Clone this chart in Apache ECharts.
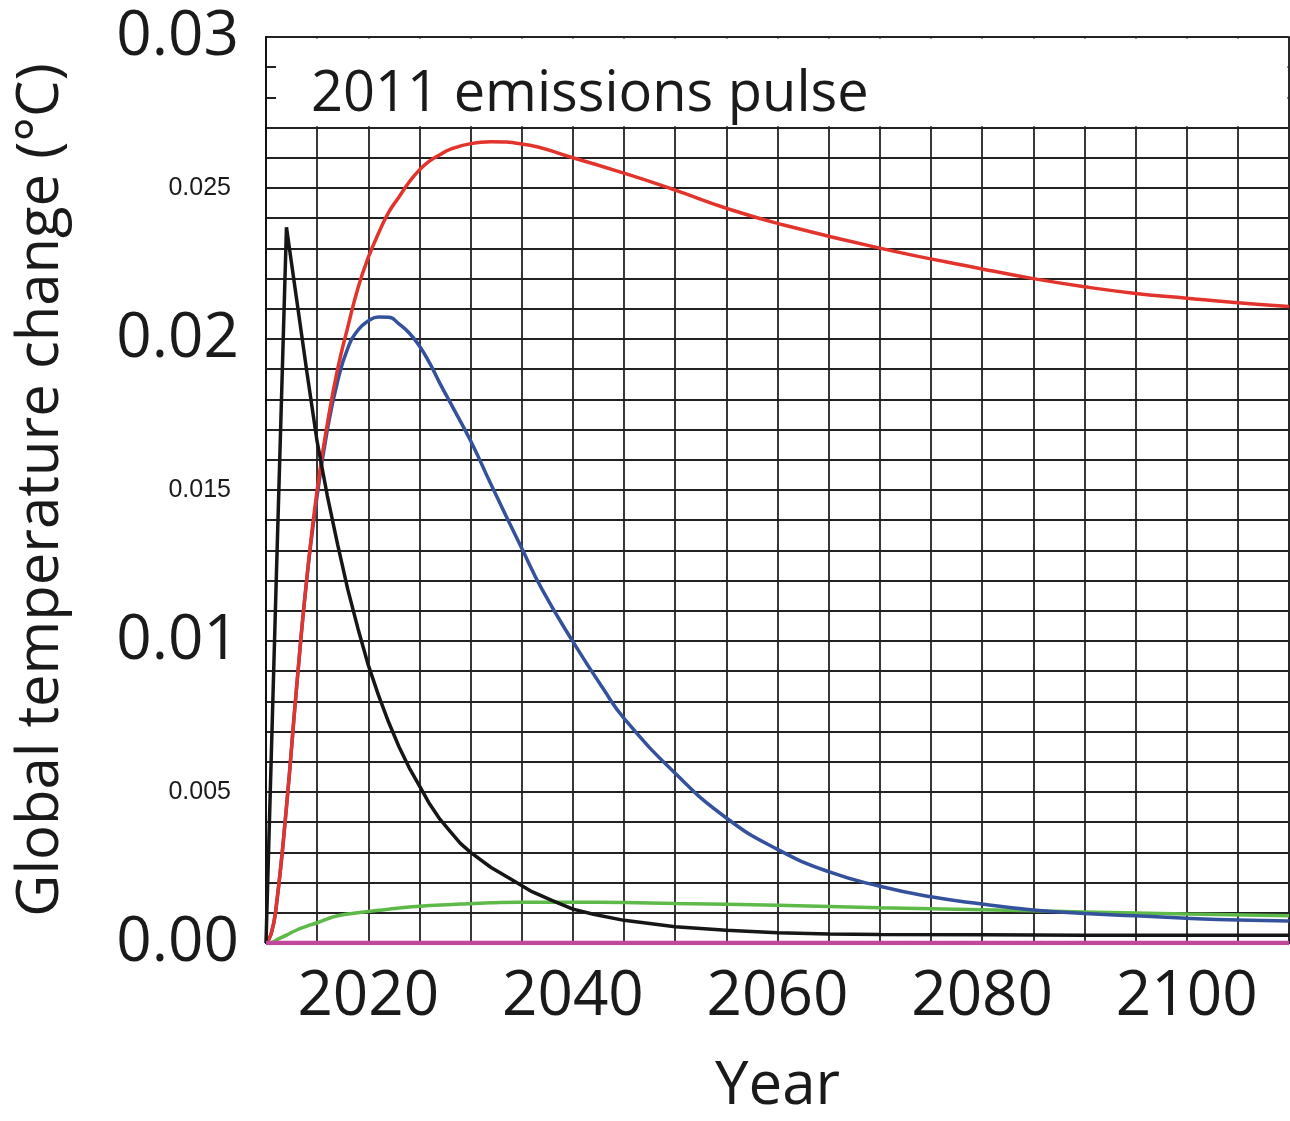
<!DOCTYPE html>
<html><head><meta charset="utf-8">
<script src="https://cdn.jsdelivr.net/npm/echarts@6/dist/echarts.min.js"></script>
<style>html,body{margin:0;padding:0;background:#fff}#c{width:1290px;height:1121px}</style>
</head><body><div id="c"></div>
<script>
// ---- data ----
const redYears   = [2010,2010.5,2011,2012,2013,2014,2015,2016,2017,2018,2019,2020,2021,2022,2023,2024,2025,2026,2027,2028,2030,2032,2035,2040,2045,2050,2055,2060,2070,2080,2085,2090,2095,2100,2105,2110];
const redValues  = [0,0.0003,0.0012,0.0045,0.0085,0.0121,0.0150,0.0172,0.0190,0.0204,0.0217,0.0227,0.0235,0.0242,0.0247,0.0252,0.0256,0.0259,0.0261,0.02628,0.02647,0.02653,0.02646,0.0260,0.02549,0.02493,0.02433,0.02383,0.02301,0.02232,0.02200,0.02173,0.02151,0.02135,0.0212,0.02108];

const blueYears  = [2010,2010.5,2011,2012,2013,2014,2015,2016,2017,2018,2019,2020,2021,2022,2023,2024,2025,2026,2027,2028,2030,2032,2035,2037,2040,2043,2045,2050,2055,2060,2065,2070,2075,2080,2085,2090,2095,2100,2105,2110];
const blueValues = [0,0.0003,0.0012,0.0045,0.0085,0.0121,0.0148,0.0170,0.0186,0.0197,0.0203,0.0206,0.02073,0.02072,0.0205,0.0202,0.01977,0.0192,0.01853,0.0179,0.01663,0.01518,0.01307,0.0117,0.00998,0.0084,0.00744,0.00562,0.00414,0.0031,0.00236,0.00188,0.00153,0.00129,0.00109,0.00098,0.0009,0.00082,0.00076,0.00073];

const blackYears  = [2010,2011,2012,2013,2014,2015,2016,2017,2018,2019,2020,2021,2022,2023,2024,2025,2026,2027,2028,2029,2030,2032,2034,2036,2038,2040,2042,2045,2050,2055,2060,2065,2070,2080,2090,2110];
const blackValues = [0,0.0120,0.0237,0.0213,0.0189,0.0166,0.0148,0.0132,0.0117,0.0104,0.0092,0.0082,0.0073,0.0065,0.0058,0.0052,0.0046,0.0041,0.0037,0.0033,0.0030,0.0025,0.0021,0.0017,0.0014,0.00112,0.00095,0.00075,0.00054,0.00042,0.00034,0.0003,0.00028,0.00027,0.00026,0.00026];

const greenYears  = [2010,2010.6,2011,2012,2013,2014,2015,2016,2017,2018,2020,2022,2024,2026,2029,2032,2035,2040,2045,2050,2060,2070,2080,2090,2100,2110];
const greenValues = [0,0.00002,0.0001,0.00026,0.00043,0.00056,0.00067,0.0008,0.0009,0.00096,0.00104,0.00112,0.00119,0.00124,0.00129,0.00133,0.00135,0.00135,0.00134,0.00131,0.00125,0.00117,0.0011,0.00103,0.00096,0.0009];

const pinkYears  = [2010,2110];
const pinkValues = [0,0];

const xTickLabels = [2020,2040,2060,2080,2100];
const yTickValues = [0,0.005,0.01,0.015,0.02,0.025,0.03];
const yTickLabels = ['0.00','0.005','0.01','0.015','0.02','0.025','0.03'];

const titleText = '2011 emissions pulse';
const xName = 'Year';
const yName = 'Global temperature change (°C)';

// ---- chart ----
const pair = (xs, ys) => xs.map((x, i) => [x, ys[i]]);
const chart = echarts.init(document.getElementById('c'), null, {renderer: 'canvas'});
const FONT = 'Open Sans';

function line(name, xs, ys, color, width, smooth) {
  return {
    name, type: 'line', data: pair(xs, ys), showSymbol: false, symbol: 'none',
    smooth: smooth, lineStyle: {color, width}, itemStyle: {color}, z: 3, silent: true
  };
}

chart.setOption({
  animation: false,
  title: {
    text: titleText, left: 306, top: 62,
    textStyle: {fontFamily: FONT, fontSize: 56, fontWeight: 'normal', color: '#1a1a1a'}
  },
  grid: {left: 266, right: 1, top: 37, bottom: 178, show: true, borderColor: '#777', borderWidth: 2,
         containLabel: false, outerBoundsMode: 'none'},
  xAxis: {
    type: 'value', min: 2010, max: 2110, interval: 5,
    axisLine: {show: true, onZero: false, lineStyle: {color: '#111', width: 2}},
    axisTick: {show: false},
    splitLine: {show: true, lineStyle: {color: '#222', width: 1.8}},
    axisLabel: {
      margin: 23, fontFamily: FONT, fontSize: 62, color: '#1a1a1a',
      showMinLabel: true, showMaxLabel: true, hideOverlap: false,
      formatter: v => xTickLabels.includes(Math.round(v)) ? String(Math.round(v)) : ''
    },
    name: xName, nameLocation: 'middle', nameGap: 114,
    nameTextStyle: {fontFamily: FONT, fontSize: 60, color: '#1a1a1a'}
  },
  yAxis: {
    type: 'value', min: 0, max: 0.03, interval: 0.001,
    axisLine: {show: true, onZero: false, lineStyle: {color: '#111', width: 2}},
    axisTick: {show: false},
    splitLine: {show: true, lineStyle: {color: '#222', width: 1.8}},
    axisLabel: {
      margin: 27, showMinLabel: true, showMaxLabel: true, hideOverlap: false,
      formatter: v => {
        const k = Math.round(v * 1000);
        const i = yTickValues.findIndex(t => Math.round(t * 1000) === k);
        if (i < 0) return '';
        return (k % 10 === 0 ? '{big|' : '{small|') + yTickLabels[i] + '}';
      },
      rich: {
        big: {fontFamily: FONT, fontSize: 62, color: '#1a1a1a'},
        small: {fontFamily: 'Liberation Sans', fontSize: 25, color: '#1a1a1a', padding: [0, 8, 0, 0]}
      }
    },
    name: yName, nameLocation: 'middle', nameGap: 196, nameRotate: 90,
    nameTextStyle: {fontFamily: FONT, fontSize: 58, color: '#1a1a1a'}
  },
  series: [
    line('green', greenYears, greenValues, '#5db948', 3.5, 0.5),
    line('blue', blueYears, blueValues, '#34519c', 3.5, 0.5),
    line('red', redYears, redValues, '#e2342c', 3.5, 0.5),
    line('black', blackYears, blackValues, '#161616', 3.5, false),
    line('pink', pinkYears, pinkValues, '#c0479b', 4.5, false)
  ]
});

// white panel behind the title, covering the grid above 0.027
const pA = chart.convertToPixel({gridIndex: 0}, [2010, 0.027]);
const pB = chart.convertToPixel({gridIndex: 0}, [2110, 0.03]);
chart.setOption({
  graphic: [{
    type: 'rect', z: 1, silent: true,
    shape: {x: pA[0] + 10, y: pB[1] + 1.5, width: pB[0] - pA[0] - 11.5, height: pA[1] - pB[1] - 2.8},
    style: {fill: '#fff'}
  }]
});
</script>
</body></html>
